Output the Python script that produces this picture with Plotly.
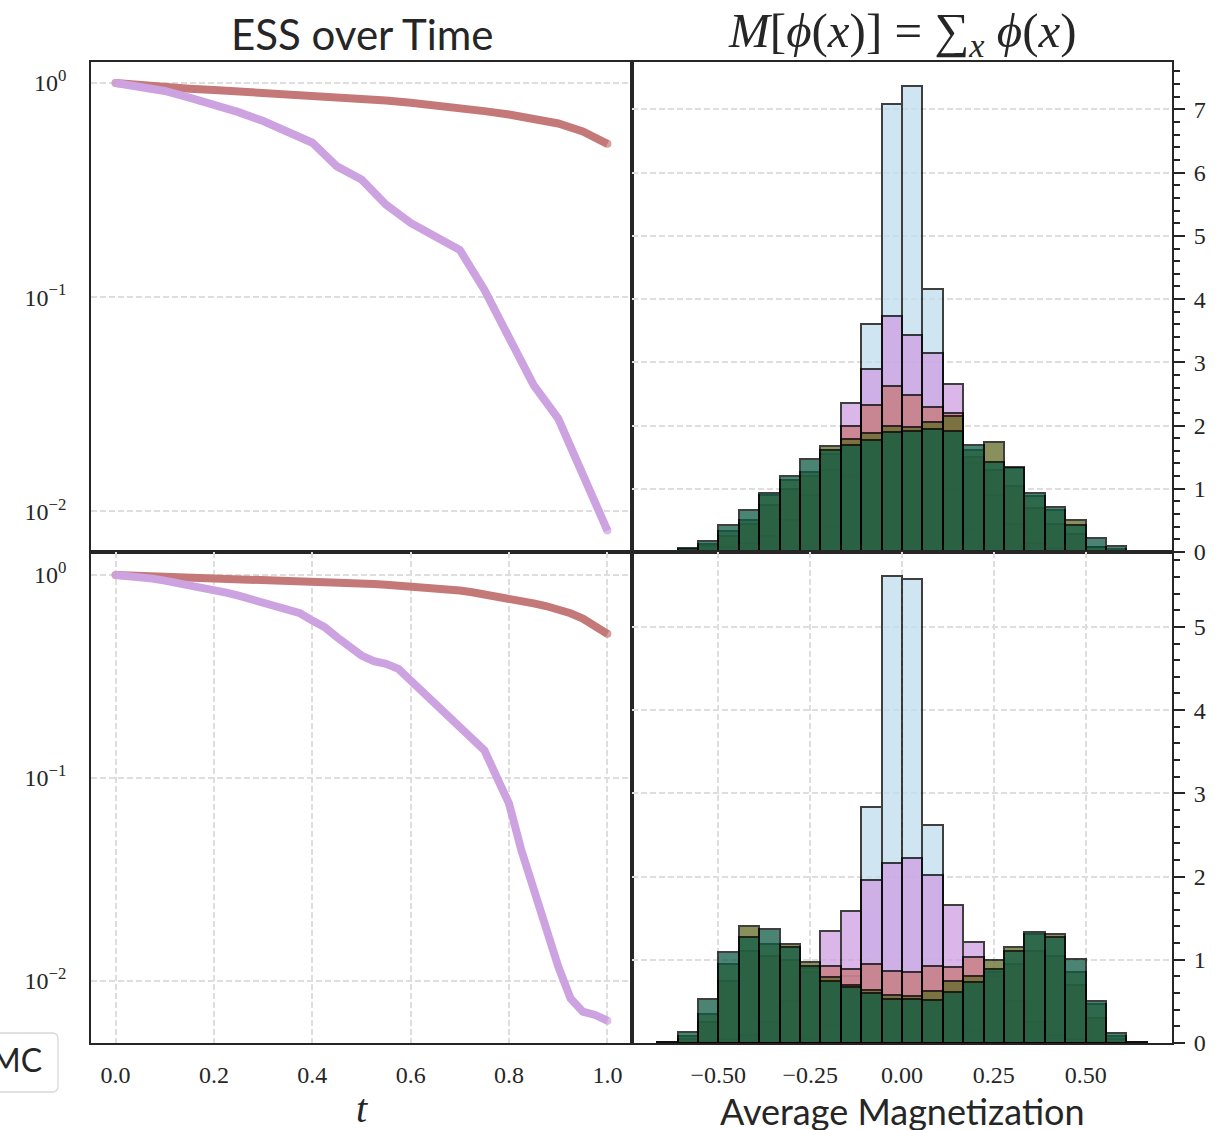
import plotly.graph_objects as go
from plotly.subplots import make_subplots

# ---------------- ESS over time (two runs) ----------------
t_top = [0.0, 0.05, 0.10, 0.15, 0.20, 0.25, 0.30, 0.35, 0.40, 0.45, 0.50,
         0.55, 0.60, 0.65, 0.70, 0.75, 0.80, 0.85, 0.90, 0.95, 1.0]
ess_red_top = [1.0, 0.975, 0.954, 0.941, 0.927, 0.914, 0.901, 0.888, 0.872, 0.860, 0.845,
               0.829, 0.809, 0.789, 0.764, 0.739, 0.713, 0.683, 0.647, 0.594, 0.520]
ess_purple_top = [1.0, 0.968, 0.918, 0.854, 0.795, 0.731, 0.664, 0.590, 0.526, 0.408, 0.354,
                  0.270, 0.222, 0.192, 0.166, 0.108, 0.0653, 0.0388, 0.0271, 0.0147, 0.00813]

t_bot = [0.0, 0.025, 0.05, 0.075, 0.10, 0.125, 0.15, 0.175, 0.20, 0.225, 0.25, 0.275,
         0.30, 0.325, 0.35, 0.375, 0.40, 0.425, 0.45, 0.475, 0.50, 0.525, 0.55, 0.575,
         0.60, 0.625, 0.65, 0.675, 0.70, 0.725, 0.75, 0.775, 0.80, 0.825, 0.85, 0.875,
         0.90, 0.925, 0.95, 0.975, 1.0]
ess_red_bot = [1.0, 0.996, 0.992, 0.988, 0.984, 0.980, 0.976, 0.972, 0.967, 0.964, 0.960, 0.956,
               0.951, 0.946, 0.941, 0.936, 0.931, 0.926, 0.920, 0.914, 0.908, 0.902, 0.895, 0.888,
               0.880, 0.871, 0.862, 0.851, 0.838, 0.822, 0.804, 0.785, 0.764, 0.745, 0.724, 0.703,
               0.680, 0.648, 0.610, 0.565, 0.513]
ess_purple_bot = [1.0, 0.992, 0.981, 0.959, 0.938, 0.917, 0.893, 0.870, 0.844, 0.819, 0.791, 0.762,
                  0.734, 0.712, 0.686, 0.648, 0.596, 0.553, 0.494, 0.441, 0.401, 0.376, 0.365, 0.345,
                  0.302, 0.265, 0.2365, 0.207, 0.178, 0.156, 0.1368, 0.101, 0.0748, 0.0441, 0.0280,
                  0.0178, 0.0118, 0.00822, 0.00707, 0.00681, 0.00638]

# ---------------- Magnetization histograms (density per bin) ----------------
bin_centers = [-0.6389, -0.5833, -0.5278, -0.4722, -0.4167, -0.3611, -0.3056, -0.2500,
               -0.1944, -0.1389, -0.0833, -0.0278, 0.0278, 0.0833, 0.1389, 0.1944,
               0.2500, 0.3056, 0.3611, 0.4167, 0.4722, 0.5278, 0.5833, 0.6389]
bin_width = 0.05556

hist_top = {
    "blue":   [0, 0, 0, 0, 0, 0, 0, 0.10, 0.40, 1.20, 3.60, 7.08,
               7.37, 4.16, 1.00, 0.35, 0.10, 0, 0, 0, 0, 0, 0, 0],
    "purple": [0, 0, 0.03, 0.08, 0.15, 0.25, 0.50, 0.90, 1.30, 2.35, 2.90, 3.74,
               3.44, 3.15, 2.66, 1.40, 0.90, 0.45, 0.15, 0.06, 0.02, 0, 0, 0],
    "red":    [0, 0.03, 0.10, 0.25, 0.45, 0.75, 1.00, 1.20, 1.55, 2.00, 2.32, 2.62,
               2.49, 2.29, 2.20, 1.50, 1.30, 1.05, 0.70, 0.45, 0.28, 0.08, 0.02, 0],
    "olive":  [0, 0.04, 0.12, 0.34, 0.50, 0.90, 1.14, 1.26, 1.67, 1.78, 1.89, 2.00,
               1.97, 2.06, 2.15, 1.61, 1.74, 1.33, 0.89, 0.66, 0.51, 0.08, 0.05, 0],
    "green":  [0.015, 0.06, 0.18, 0.43, 0.67, 0.94, 1.21, 1.47, 1.62, 1.70, 1.77, 1.90,
               1.91, 1.94, 1.91, 1.69, 1.42, 1.35, 0.94, 0.71, 0.42, 0.22, 0.095, 0.015],
}
hist_bot = {
    "blue":   [0, 0, 0, 0, 0, 0, 0, 0.05, 0.20, 0.80, 2.84, 5.61,
               5.57, 2.62, 0.60, 0.15, 0.03, 0, 0, 0, 0, 0, 0, 0],
    "purple": [0, 0, 0.02, 0.05, 0.10, 0.25, 0.50, 0.85, 1.35, 1.59, 1.96, 2.16,
               2.22, 2.02, 1.66, 1.21, 0.80, 0.50, 0.25, 0.10, 0.05, 0.02, 0, 0],
    "red":    [0, 0.05, 0.25, 0.75, 1.10, 1.05, 1.00, 0.90, 0.93, 0.89, 0.95, 0.86,
               0.85, 0.93, 0.91, 1.03, 0.85, 0.95, 1.10, 1.05, 0.70, 0.30, 0.05, 0],
    "olive":  [0.01, 0.09, 0.35, 0.95, 1.41, 1.19, 1.19, 0.97, 0.79, 0.70, 0.64, 0.58,
               0.57, 0.63, 0.75, 0.81, 1.00, 1.15, 1.31, 1.31, 0.85, 0.47, 0.09, 0.01],
    "green":  [0.016, 0.13, 0.53, 1.09, 1.27, 1.37, 1.15, 0.93, 0.75, 0.67, 0.60, 0.53,
               0.53, 0.52, 0.61, 0.73, 0.89, 1.11, 1.33, 1.27, 1.01, 0.50, 0.12, 0.01],
}

hist_colors = {"blue": "#c0deee", "purple": "#d09ee2", "red": "#c67878",
               "olive": "#626c26", "green": "#0f5c44"}
line_red = "#c57878"
line_purple = "#cda2e0"

ink = "#262626"
grid_col = "#dedede"
serif = "Liberation Serif"
sans = "Lato"

fig = make_subplots(rows=2, cols=2, horizontal_spacing=0, vertical_spacing=0)


def ess_line(t, vals, color, row):
    ends = [8] + [0] * (len(vals) - 2) + [8]
    fig.add_trace(go.Scatter(x=t, y=vals, mode="lines+markers",
                             line=dict(color=color, width=8),
                             marker=dict(color=color, size=ends, line=dict(width=0)),
                             showlegend=False, hoverinfo="skip"), row=row, col=1)


ess_line(t_top, ess_red_top, line_red, 1)
ess_line(t_top, ess_purple_top, line_purple, 1)
ess_line(t_bot, ess_red_bot, line_red, 2)
ess_line(t_bot, ess_purple_bot, line_purple, 2)

for row, hist in ((1, hist_top), (2, hist_bot)):
    for name in ("blue", "purple", "red", "olive", "green"):
        heights = [v if v > 0 else None for v in hist[name]]
        fig.add_trace(go.Bar(x=bin_centers, y=heights, width=bin_width,
                             marker=dict(color=hist_colors[name],
                                         line=dict(color="#000000", width=2)),
                             opacity=0.75, showlegend=False, hoverinfo="skip"),
                      row=row, col=2)

# Figure geometry (pixels)
W, H = 1218, 1130
L, R, T, B = 91, 1172, 62, 1043
pw, ph = R - L, B - T
xmid = (632 - L) / pw
ymid = (B - 552) / ph


def px(x):
    return (x - L) / pw


def py(y):
    return (B - y) / ph


frame = dict(showline=True, linecolor=ink, linewidth=1.8, mirror=True, zeroline=False)
dash = "6px,3px"
tickfont = dict(family=serif, size=24, color=ink)
grid = dict(showgrid=True, gridcolor=grid_col, griddash=dash, gridwidth=1.5)
right_ticks = dict(ticks="outside", ticklen=11, tickwidth=2, tickcolor=ink,
                   ticklabelstandoff=4, tickfont=tickfont,
                   minor=dict(dtick=0.2, ticks="outside", ticklen=6, tickwidth=1.6,
                              tickcolor=ink, showgrid=False))
log_ticks = dict(type="log", tickvals=[1, 0.1, 0.01],
                 ticktext=["10<sup>0</sup>", "10<sup>\u22121</sup>", "10<sup>\u22122</sup>"],
                 ticks="", ticklabelstandoff=18, tickfont=tickfont)

fig.update_layout(
    width=W, height=H, margin=dict(l=L, r=W - R, t=T, b=H - B),
    paper_bgcolor="white", plot_bgcolor="white", barmode="overlay", bargap=0,
    showlegend=False,
    xaxis=dict(domain=[0, xmid], anchor="y", range=[-0.05, 1.05], showticklabels=False,
               showgrid=False, ticks="", **frame),
    yaxis=dict(domain=[ymid, 1], anchor="x", range=[-2.19, 0.098], **log_ticks, **grid, **frame),
    xaxis2=dict(domain=[xmid, 1], anchor="y2", range=[-0.735, 0.735], showticklabels=False,
                showgrid=False, ticks="", **frame),
    yaxis2=dict(domain=[ymid, 1], anchor="x2", side="right", range=[0, 7.75],
                tickvals=[0, 1, 2, 3, 4, 5, 6, 7], **right_ticks, **grid, **frame),
    xaxis3=dict(domain=[0, xmid], anchor="y3", range=[-0.05, 1.05],
                tickvals=[0.0, 0.2, 0.4, 0.6, 0.8, 1.0],
                ticktext=["0.0", "0.2", "0.4", "0.6", "0.8", "1.0"],
                ticks="", ticklabelstandoff=9, tickfont=tickfont, **grid, **frame),
    yaxis3=dict(domain=[0, ymid], anchor="x3", range=[-2.305, 0.113], **log_ticks, **grid, **frame),
    xaxis4=dict(domain=[xmid, 1], anchor="y4", range=[-0.735, 0.735],
                tickvals=[-0.5, -0.25, 0.0, 0.25, 0.5],
                ticktext=["\u22120.50", "\u22120.25", "0.00", "0.25", "0.50"],
                ticks="", ticklabelstandoff=9, tickfont=tickfont, **grid, **frame),
    yaxis4=dict(domain=[0, ymid], anchor="x4", side="right", range=[0, 5.9],
                tickvals=[0, 1, 2, 3, 4, 5], **right_ticks, **grid, **frame),
)

# Titles and axis labels
fig.add_annotation(text="ESS over Time", x=px(361.5), y=py(34), xref="paper", yref="paper",
                   showarrow=False, xanchor="center", yanchor="middle",
                   font=dict(family=sans, size=42, color=ink))
fig.add_annotation(text="<i>M</i>[<i>\u03d5</i>(<i>x</i>)] = \u2211<sub><i>x</i></sub> <i>\u03d5</i>(<i>x</i>)",
                   x=px(902), y=py(34), xref="paper", yref="paper",
                   showarrow=False, xanchor="center", yanchor="middle",
                   font=dict(family=serif, size=49, color=ink))
fig.add_annotation(text="<i>t</i>", x=px(361.5), y=py(1108), xref="paper", yref="paper",
                   showarrow=False, xanchor="center", yanchor="middle",
                   font=dict(family=serif, size=40, color=ink))
fig.add_annotation(text="Average Magnetization", x=px(902), y=py(1111), xref="paper",
                   yref="paper", showarrow=False, xanchor="center", yanchor="middle",
                   font=dict(family=sans, size=36, color=ink))

# Legend box at the lower left edge
x0, x1, y0, y1, r = -30, 58, 1033, 1092, 6
rx, ry = r / pw, r / ph
X0, X1, Y0, Y1 = px(x0), px(x1), py(y1), py(y0)
legend_path = (f"M {X0},{Y0} L {X1 - rx},{Y0} Q {X1},{Y0} {X1},{Y0 + ry} "
               f"L {X1},{Y1 - ry} Q {X1},{Y1} {X1 - rx},{Y1} L {X0},{Y1} Z")
fig.add_shape(type="path", path=legend_path, xref="paper", yref="paper",
              line=dict(color="#d8d8d8", width=1.3), fillcolor="rgba(255,255,255,0.85)")
fig.add_annotation(text="MC", x=px(44), y=py(1059), xref="paper", yref="paper",
                   showarrow=False, xanchor="right", yanchor="middle",
                   font=dict(family=sans, size=32, color=ink))

fig.write_html("out.html")
